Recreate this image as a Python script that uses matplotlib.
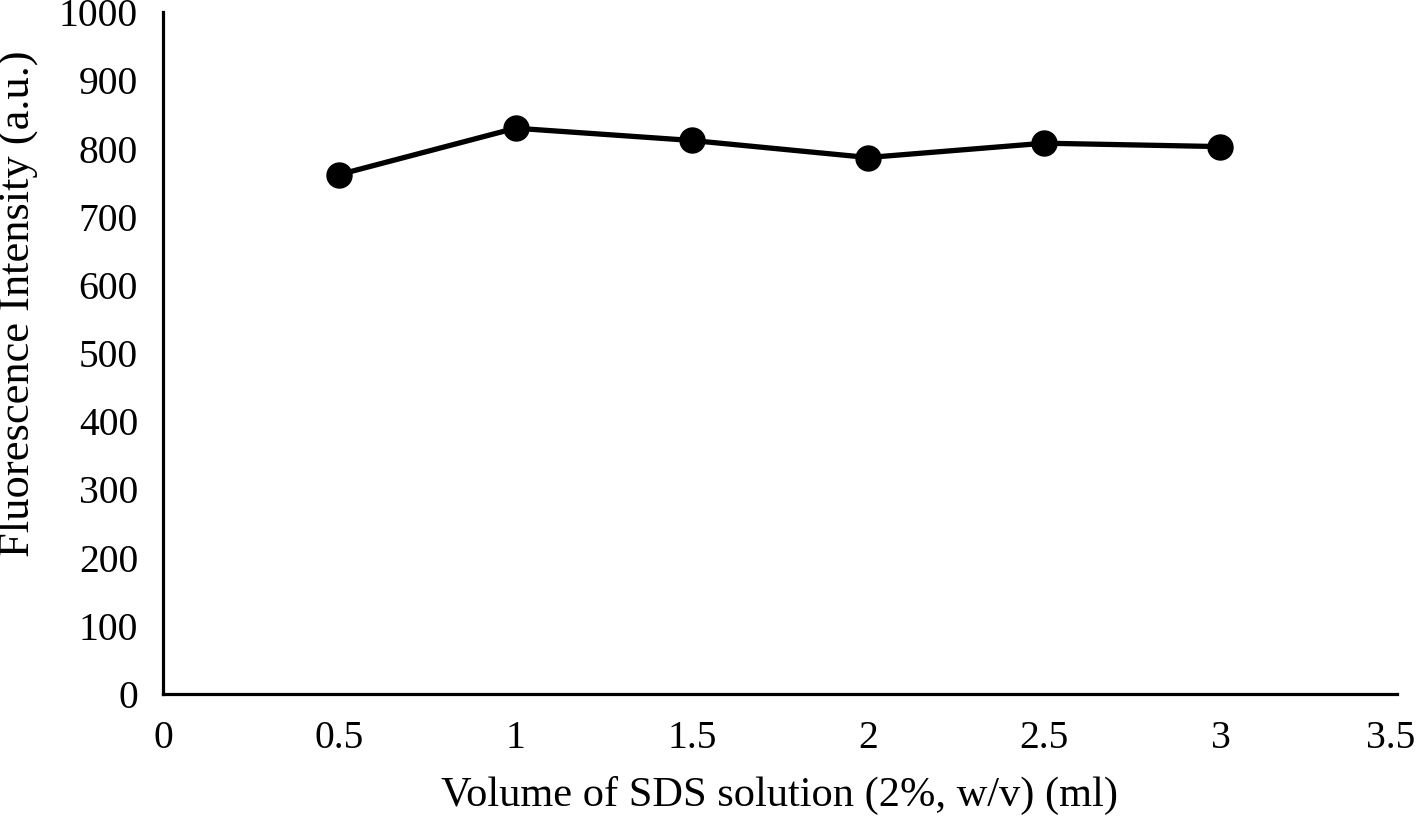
import matplotlib
matplotlib.use("Agg")
import matplotlib.pyplot as plt
import matplotlib.transforms as mtransforms

# SDS volume vs fluorescence
volume = [0.5, 1.0, 1.5, 2.0, 2.5, 3.0]
intensity = [762, 830, 812, 787, 808, 803]

plt.rcParams['font.family'] = ['Liberation Serif', 'DejaVu Serif']

fig = plt.figure(figsize=(14.18, 8.21), dpi=100)
ax = fig.add_axes([0.115, 0.1547, 0.87, 0.8303])

ax.plot(volume, intensity, color='black', linewidth=3.8, marker='o',
        markersize=18, markerfacecolor='black', markeredgecolor='black')

ax.set_xlim(0, 3.5)
ax.set_ylim(0, 1000)
ax.set_xticks([0, 0.5, 1, 1.5, 2, 2.5, 3, 3.5])
ax.set_xticklabels(['0', '0.5', '1', '1.5', '2', '2.5', '3', '3.5'])
ax.set_yticks(range(0, 1001, 100))

for side in ['top', 'right']:
    ax.spines[side].set_visible(False)
for side in ['left', 'bottom']:
    ax.spines[side].set_linewidth(2.3)

ax.tick_params(axis='both', length=0, labelsize=28.5)
ax.tick_params(axis='x', pad=19)
ax.tick_params(axis='y', pad=18)

# last x label sits right at the figure edge, nudge it in a bit
last = ax.get_xticklabels()[-1]
last.set_transform(last.get_transform() +
                   mtransforms.ScaledTranslation(-6 / 100, 0, fig.dpi_scale_trans))

ax.set_xlabel('Volume of SDS solution (2%, w/v) (ml)', fontsize=30.5)
ax.set_ylabel('Fluorescence Intensity (a.u.)', fontsize=32)
ax.xaxis.set_label_coords(0.5, -0.12)
ax.yaxis.set_label_coords(-0.101, 0.572)

fig.savefig('out.png', dpi=100)
